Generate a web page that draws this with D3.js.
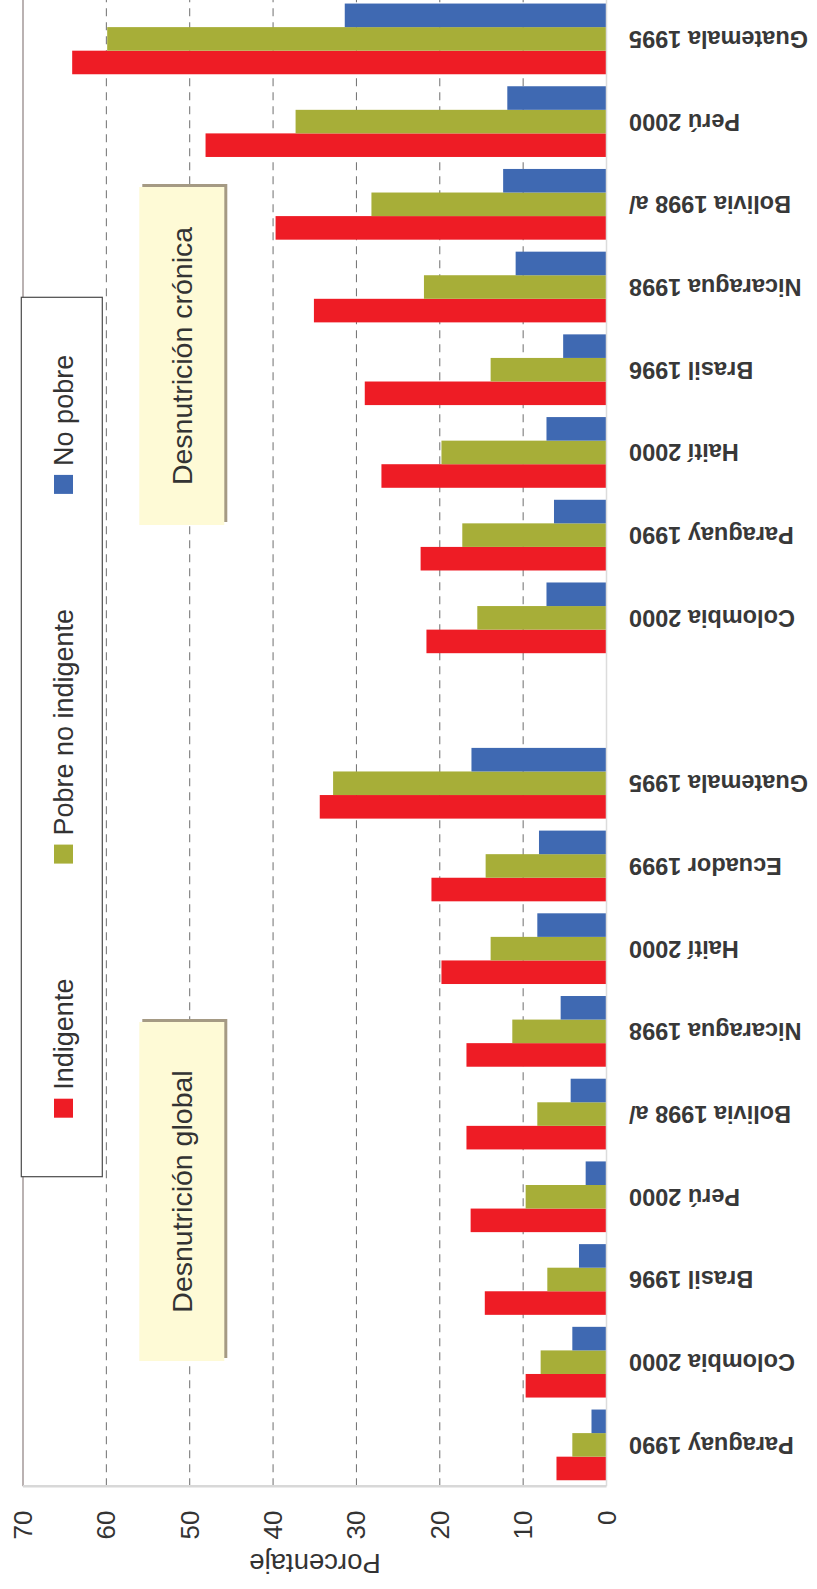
<!DOCTYPE html>
<html>
<meta charset="utf-8">
<style>
body { margin: 0; background: #fff; }
text { font-family: 'Liberation Sans', Arial, Helvetica, sans-serif; fill: #333; }
.grid line { stroke: #6e6e6e; stroke-width: 1; stroke-dasharray: 8,6; }
.cat { font-weight: bold; font-size: 23.5px; fill: #383838; }
.tick { font-size: 26px; }
.title { font-size: 27.5px; }
.legend text { font-size: 27px; }
.note text { font-size: 28.5px; }
</style>
<body>
<svg width="817" height="1589"></svg>
<script src="https://d3js.org/d3.v7.min.js"></script>
<script>

var series = ["Indigente", "Pobre no indigente", "No pobre"];
var colors = ["#ee1c25", "#a7ae38", "#3f69b2"];

// Desnutrición global
var globalLabels = ["Paraguay 1990", "Colombia 2000", "Brasil 1996", "Perú 2000", "Bolivia 1998 a/", "Nicaragua 1998", "Haití 2000", "Ecuador 1999", "Guatemala 1995"];
var globalIndigente = [6.0, 9.7, 14.6, 16.3, 16.8, 16.8, 19.8, 21.0, 34.4];
var globalPobre     = [4.1, 7.9, 7.1, 9.7, 8.3, 11.3, 13.9, 14.5, 32.8];
var globalNoPobre   = [1.8, 4.1, 3.3, 2.5, 4.3, 5.5, 8.3, 8.1, 16.2];

// Desnutrición crónica
var cronicaLabels = ["Colombia 2000", "Paraguay 1990", "Haití 2000", "Brasil 1996", "Nicaragua 1998", "Bolivia 1998 a/", "Perú 2000", "Guatemala 1995"];
var cronicaIndigente = [21.6, 22.3, 27.0, 29.0, 35.1, 39.7, 48.1, 64.1];
var cronicaPobre     = [15.5, 17.3, 19.8, 13.9, 21.9, 28.2, 37.3, 59.9];
var cronicaNoPobre   = [7.2, 6.3, 7.2, 5.2, 10.9, 12.4, 11.9, 31.4];

var yTicks = [0, 10, 20, 30, 40, 50, 60, 70];

// build rows (one empty slot between the two groups)
var rows = [];
globalLabels.forEach(function(l, i) {
    rows.push({key: "g" + i, label: l, values: [globalIndigente[i], globalPobre[i], globalNoPobre[i]]});
});
rows.push({key: "gap", label: "", values: []});
cronicaLabels.forEach(function(l, i) {
    rows.push({key: "c" + i, label: l, values: [cronicaIndigente[i], cronicaPobre[i], cronicaNoPobre[i]]});
});

var svg = d3.select("svg");
// chart is drawn as a column chart, then turned a quarter to the left
var g = svg.append("g").attr("transform", "translate(0,1589) rotate(-90)");

var x = d3.scaleBand()
    .domain(rows.map(function(d) { return d.key; }))
    .range([102.75, 1591.45])
    .paddingInner(0.145)
    .paddingOuter(0.0725);

var x1 = d3.scaleBand().domain(series).range([0, x.bandwidth()]);

var y = d3.scaleLinear().domain([0, 70]).range([606.5, 23]);

// grid
g.append("g").attr("class", "grid")
  .selectAll("line")
  .data(yTicks.filter(function(t) { return t > 0 && t < 70; }))
  .enter().append("line")
    .attr("x1", x.range()[0]).attr("x2", x.range()[1])
    .attr("y1", function(d) { return y(d); })
    .attr("y2", function(d) { return y(d); });

g.append("line")
    .attr("x1", x.range()[0]).attr("x2", x.range()[1])
    .attr("y1", y(70)).attr("y2", y(70))
    .attr("stroke", "#a39898").attr("stroke-width", 1.5);

// notes
var notes = [
    {text: "Desnutrición global", x0: 228, x1: 567},
    {text: "Desnutrición crónica", x0: 1064, x1: 1402}
];
var note = g.append("g").attr("class", "note")
  .selectAll("g").data(notes).enter().append("g");
note.append("rect")
    .attr("x", function(d) { return d.x0 + 3; })
    .attr("y", 142.3)
    .attr("width", function(d) { return d.x1 - d.x0; })
    .attr("height", 85)
    .attr("fill", "#a59a84");
note.append("rect")
    .attr("x", function(d) { return d.x0; })
    .attr("y", 139.3)
    .attr("width", function(d) { return d.x1 - d.x0; })
    .attr("height", 85)
    .attr("fill", "#fefad6");
note.append("text")
    .attr("x", function(d) { return (d.x0 + d.x1) / 2; })
    .attr("y", 182)
    .attr("text-anchor", "middle")
    .attr("dominant-baseline", "central")
    .text(function(d) { return d.text; });

// bars
var grp = g.append("g").selectAll("g")
    .data(rows.filter(function(d) { return d.values.length; }))
    .enter().append("g")
    .attr("transform", function(d) { return "translate(" + x(d.key) + ",0)"; });

grp.selectAll("rect")
    .data(function(d) { return d.values.map(function(v, i) { return {s: series[i], v: v, c: colors[i]}; }); })
    .enter().append("rect")
    .attr("x", function(d) { return x1(d.s); })
    .attr("width", x1.bandwidth())
    .attr("y", function(d) { return y(d.v); })
    .attr("height", function(d) { return y(0) - y(d.v); })
    .attr("fill", function(d) { return d.c; });

// axes lines
g.append("line")
    .attr("x1", x.range()[0]).attr("x2", x.range()[1])
    .attr("y1", y(0)).attr("y2", y(0))
    .attr("stroke", "#dcdcdc").attr("stroke-width", 1.5);
g.append("line")
    .attr("x1", x.range()[0]).attr("x2", x.range()[0])
    .attr("y1", y(70)).attr("y2", y(0))
    .attr("stroke", "#d8d8d8").attr("stroke-width", 2.5);

// value tick labels
g.append("g").selectAll("text")
    .data(yTicks).enter().append("text")
    .attr("class", "tick")
    .attr("x", 78.5)
    .attr("y", function(d) { return y(d); })
    .attr("text-anchor", "end")
    .attr("dominant-baseline", "central")
    .text(function(d) { return d; });

g.append("text")
    .attr("class", "title")
    .attr("transform", "translate(26,315) rotate(-90)")
    .attr("text-anchor", "middle")
    .attr("dominant-baseline", "central")
    .text("Porcentaje");

// category labels
g.append("g").selectAll("text")
    .data(rows.filter(function(d) { return d.label; }))
    .enter().append("text")
    .attr("class", "cat")
    .attr("transform", function(d) {
        return "translate(" + (x(d.key) + x.bandwidth() / 2) + ",629) rotate(-90)";
    })
    .attr("text-anchor", "end")
    .attr("dominant-baseline", "central")
    .text(function(d) { return d.label; });

// legend
var legend = g.append("g").attr("class", "legend");
legend.append("rect")
    .attr("x", 412.3).attr("y", 21.3)
    .attr("width", 879.4).attr("height", 81)
    .attr("fill", "#fff").attr("stroke", "#4a4a4a").attr("stroke-width", 1.2);

var lx = 471.3;
series.forEach(function(s, i) {
    legend.append("rect")
        .attr("x", lx).attr("y", 54)
        .attr("width", 19).attr("height", 19)
        .attr("fill", colors[i]);
    var t = legend.append("text")
        .attr("x", lx + 28).attr("y", 63.5)
        .attr("dominant-baseline", "central")
        .text(s);
    lx += 28 + t.node().getComputedTextLength() + 115;
});

</script>
</body>
</html>
